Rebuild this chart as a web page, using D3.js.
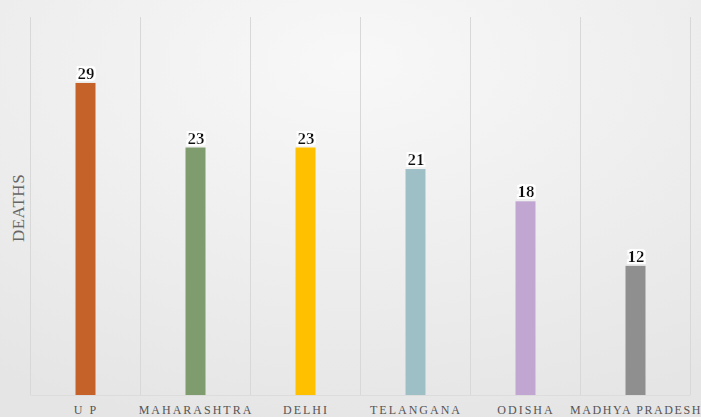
<!DOCTYPE html>
<html><head><meta charset="utf-8">
<script src="https://cdn.jsdelivr.net/npm/d3@7"></script>
<style>body{margin:0;overflow:hidden}svg{display:block}</style>
</head><body>
<svg id="c" width="701" height="417"></svg>
<script>
const categories = ["U P","MAHARASHTRA","DELHI","TELANGANA","ODISHA","MADHYA PRADESH"];
const values = [29,23,23,21,18,12];
const colors = ["#C5622A","#7F9C6E","#FFC000","#9FBFC7","#C2A6D2","#8F8F8F"];
const yTitle = "DEATHS";

const W=701,H=417;
const svg=d3.select("#c");
const defs=svg.append("defs");
const g=defs.append("radialGradient").attr("id","bg").attr("cx","50%").attr("cy","15%").attr("r","90%");
g.append("stop").attr("offset","0%").attr("stop-color","#f8f8f8");
g.append("stop").attr("offset","100%").attr("stop-color","#e5e5e5");
svg.append("rect").attr("width",W).attr("height",H).attr("fill","url(#bg)");
const f=defs.append("filter").attr("id","halo").attr("x","-20%").attr("y","-20%").attr("width","140%").attr("height","140%");
f.append("feMorphology").attr("in","SourceAlpha").attr("operator","dilate").attr("radius","1.5").attr("result","d");
f.append("feFlood").attr("flood-color","#ffffff");
f.append("feComposite").attr("in2","d").attr("operator","in").attr("result","w");
const m=f.append("feMerge");m.append("feMergeNode").attr("in","w");m.append("feMergeNode").attr("in","SourceGraphic");

const x=d3.scaleBand().domain(categories).range([30,690]).paddingInner(0).paddingOuter(0);
const y=d3.scaleLinear().domain([0,35]).range([395,395-35*10.76]);

const bounds=categories.map(c=>x(c)).concat([x.range()[1]]);
svg.append("g").selectAll("line").data(bounds).join("line")
 .attr("x1",d=>d+0.5).attr("x2",d=>d+0.5).attr("y1",17).attr("y2",395)
 .attr("stroke","#d8d8d8").attr("stroke-width",1);

const bw=20;
svg.append("g").selectAll("rect").data(categories).join("rect")
 .attr("x",(d)=>x(d)+x.bandwidth()/2-bw/2+0.5)
 .attr("width",bw)
 .attr("y",(d,i)=>y(values[i]))
 .attr("height",(d,i)=>y(0)-y(values[i]))
 .attr("fill",(d,i)=>colors[i]);

svg.append("g").selectAll("text").data(categories).join("text")
 .attr("x",d=>x(d)+x.bandwidth()/2+1)
 .attr("y",(d,i)=>y(values[i])-4)
 .attr("text-anchor","middle")
 .attr("font-family","Liberation Serif, Times New Roman, serif")
 .attr("font-weight","bold").attr("font-size",17).attr("fill","#111")
 .attr("filter","url(#halo)")
 .text((d,i)=>values[i]);

const ax=svg.append("g").attr("transform","translate(0,395)")
 .call(d3.axisBottom(x).tickSize(0).tickPadding(0));
ax.select(".domain").attr("stroke","#dcdcdc");
ax.selectAll("text")
 .attr("y",19).attr("dy",0)
 .attr("font-family","Liberation Serif, Times New Roman, serif")
 .attr("font-size",12).attr("fill","#555")
 .style("letter-spacing",d=>d==="MADHYA PRADESH"?"1.6px":"2px")
 .attr("dx","1px");

svg.append("text")
 .attr("transform","translate(24,208) rotate(-90)")
 .attr("text-anchor","middle")
 .attr("font-family","Liberation Serif, Times New Roman, serif")
 .attr("font-size",17).attr("fill","#666")
 .style("letter-spacing","0.5px")
 .text(yTitle);
</script>
</body></html>
